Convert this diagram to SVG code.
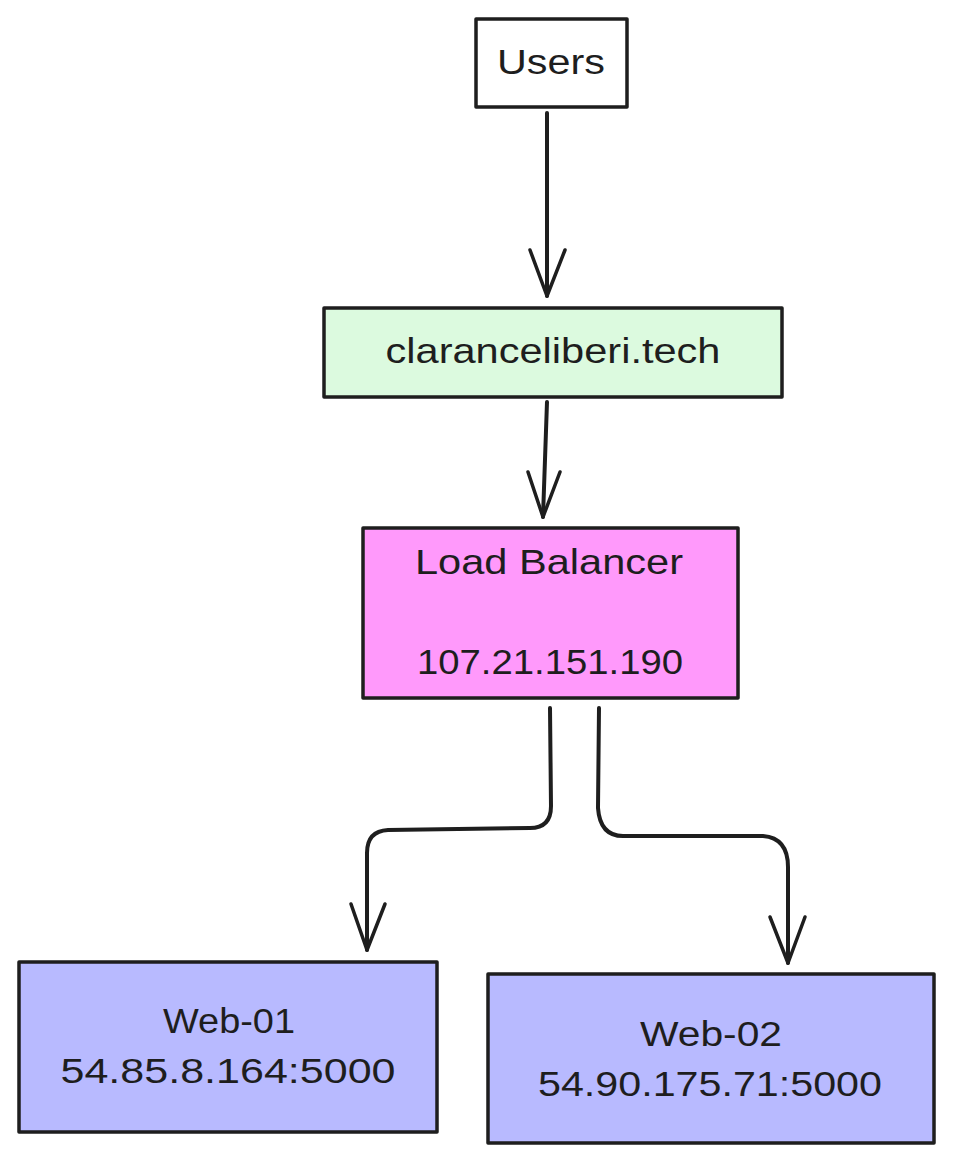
<svg xmlns="http://www.w3.org/2000/svg" width="953" height="1164" viewBox="0 0 953 1164">
  <style>
    .box { stroke: #1e1e1e; stroke-width: 3.5; stroke-linejoin: round; }
    .lbl { font-family: "Liberation Sans", "DejaVu Sans", sans-serif; font-size: 35px; fill: #1e1e1e; text-anchor: middle; }
    .edge { fill: none; stroke: #1e1e1e; stroke-width: 4; stroke-linecap: round; stroke-linejoin: round; }
    .head { fill: none; stroke: #1e1e1e; stroke-width: 3.5; stroke-linecap: round; stroke-linejoin: round; }
  </style>
  <rect width="953" height="1164" fill="#ffffff"/>

  <g id="connectors">
    <path class="edge" d="M547,113 L547,296"/>
    <path class="head" d="M530,250 L547,296 L565,250"/>

    <path class="edge" d="M547,402 L543,517"/>
    <path class="head" d="M528,472 L543,517 L560,472"/>

    <path class="edge" d="M550,708 L551,806 Q551,828 530,828 L388,830 Q367,831 367,853 L367,950"/>
    <path class="head" d="M351,904 L367,950 L385,904"/>

    <path class="edge" d="M599,708 L598,808 Q600,836 623,836 L763,836 Q788,838 788,867 L788,963"/>
    <path class="head" d="M770,917 L788,963 L805,917"/>
  </g>

  <g id="users">
    <rect class="box" x="476" y="19" width="151" height="88" fill="#ffffff"/>
    <text class="lbl" x="551" y="74" textLength="108" lengthAdjust="spacingAndGlyphs">Users</text>
  </g>

  <g id="domain">
    <rect class="box" x="324" y="308" width="458" height="89" fill="#dcfadf"/>
    <text class="lbl" x="553" y="363" textLength="335" lengthAdjust="spacingAndGlyphs">claranceliberi.tech</text>
  </g>

  <g id="load-balancer">
    <rect class="box" x="363" y="528" width="375" height="170" fill="#ff99fb"/>
    <text class="lbl" x="549" y="574" textLength="268" lengthAdjust="spacingAndGlyphs">Load Balancer</text>
    <text class="lbl" x="550" y="674" textLength="266" lengthAdjust="spacingAndGlyphs">107.21.151.190</text>
  </g>

  <g id="web-01">
    <rect class="box" x="19" y="962" width="418" height="170" fill="#b8baff"/>
    <text class="lbl" x="229" y="1033" textLength="132" lengthAdjust="spacingAndGlyphs">Web-01</text>
    <text class="lbl" x="228" y="1083" textLength="335" lengthAdjust="spacingAndGlyphs">54.85.8.164:5000</text>
  </g>

  <g id="web-02">
    <rect class="box" x="488" y="974" width="446" height="169" fill="#b8baff"/>
    <text class="lbl" x="711" y="1046" textLength="142" lengthAdjust="spacingAndGlyphs">Web-02</text>
    <text class="lbl" x="710" y="1096" textLength="344" lengthAdjust="spacingAndGlyphs">54.90.175.71:5000</text>
  </g>
</svg>
